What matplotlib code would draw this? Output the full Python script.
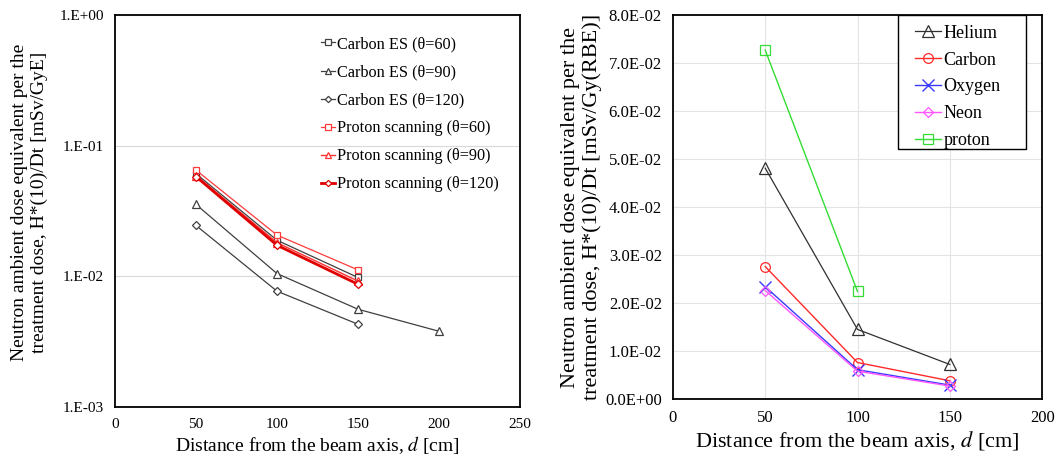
import matplotlib
matplotlib.use("Agg")
import matplotlib.pyplot as plt
from matplotlib.ticker import FuncFormatter, FixedLocator
from matplotlib.patches import Rectangle

plt.rcParams['font.family'] = ['Liberation Serif', 'DejaVu Serif']
plt.rcParams['mathtext.fontset'] = 'stix'

# ---- Left panel data ----
d_left = [50, 100, 150]
d_left_ext = [50, 100, 150, 200]
carbon_es_60 = [0.061, 0.0189, 0.0098]
carbon_es_90 = [0.0355, 0.0105, 0.0056, 0.0038]
carbon_es_120 = [0.0245, 0.0077, 0.0043]
proton_60 = [0.065, 0.0207, 0.0112]
proton_90 = [0.059, 0.0181, 0.0092]
proton_120 = [0.058, 0.0173, 0.0087]
left_xticks = [0, 50, 100, 150, 200, 250]
left_yticks = [1e-3, 1e-2, 1e-1, 1e0]

# ---- Right panel data ----
d_right = [50, 100, 150]
d_proton = [50, 100]
helium = [0.0481, 0.0145, 0.0072]
carbon = [0.0276, 0.0076, 0.0038]
oxygen = [0.0234, 0.0061, 0.0029]
neon = [0.0226, 0.0058, 0.0027]
proton = [0.0727, 0.0224]
right_xticks = [0, 50, 100, 150, 200]
right_yticks = [0.0, 0.01, 0.02, 0.03, 0.04, 0.05, 0.06, 0.07, 0.08]

fig = plt.figure(figsize=(10.58, 4.65), dpi=100)

# ---------------- Left ----------------
ax1 = fig.add_axes([0.1087, 0.1247, 0.3828, 0.843])
ax1.set_yscale('log')
ax1.set_xlim(0, 250)
ax1.set_ylim(1e-3, 1e0)
gray = '#404040'
ax1.plot(d_left, carbon_es_60, color=gray, lw=0.9, marker='s', ms=5, mfc='white', mew=0.9, label='Carbon ES (θ=60)')
ax1.plot(d_left_ext, carbon_es_90, color=gray, lw=0.9, marker='^', ms=5.5, mfc='white', mew=0.9, label='Carbon ES (θ=90)')
ax1.plot(d_left, carbon_es_120, color=gray, lw=0.9, marker='D', ms=4, mfc='white', mew=0.9, label='Carbon ES (θ=120)')
ax1.plot(d_left, proton_60, color='#ff3b3b', lw=0.9, marker='s', ms=5, mfc='white', mew=0.9, label='Proton scanning (θ=60)')
ax1.plot(d_left, proton_90, color='#ff3030', lw=1.0, marker='^', ms=5.5, mfc='white', mew=0.9, label='Proton scanning (θ=90)')
ax1.plot(d_left, proton_120, color='#e00000', lw=2.0, marker='D', ms=4, mfc='white', mew=0.9, label='Proton scanning (θ=120)')
ax1.xaxis.set_major_locator(FixedLocator(left_xticks))
ax1.yaxis.set_major_locator(FixedLocator(left_yticks))
ax1.yaxis.set_minor_locator(FixedLocator([]))
ax1.yaxis.set_major_formatter(FuncFormatter(lambda v, p: f"{v:#.0E}"))
ax1.grid(axis='y', which='major', color='#d9d9d9', lw=0.8)
ax1.set_axisbelow(True)
ax1.tick_params(length=0, labelsize=11, pad=8)
for s in ax1.spines.values():
    s.set_linewidth(1.3)
    s.set_color('black')
ax1.set_xlabel(r"Distance from the beam axis, $d$ [cm]", fontsize=14, labelpad=2)
ax1.set_ylabel("Neutron ambient dose equivalent per the\ntreatment dose, H*(10)/Dt [mSv/GyE]", fontsize=14, labelpad=10)
ax1.yaxis.set_label_coords(-0.165, 0.523)
leg1 = ax1.legend(loc='upper left', bbox_to_anchor=(0.508, 0.946), frameon=False, fontsize=11.7,
                  handlelength=0.9, handletextpad=0.1, labelspacing=0.74, markerscale=0.8,
                  borderpad=0.0, borderaxespad=0.0)

# ---------------- Right ----------------
ax2 = fig.add_axes([0.636, 0.1419, 0.349, 0.8258])
ax2.set_xlim(0, 200)
ax2.set_ylim(0, 0.08)
ax2.plot(d_right, helium, color='#303030', lw=0.9, marker='^', ms=8, mfc='none', mew=0.9, label='Helium')
ax2.plot(d_right, carbon, color='#ff2a2a', lw=1.0, marker='o', ms=7, mfc='none', mew=0.9, label='Carbon')
ax2.plot(d_right, oxygen, color='#3a3aff', lw=1.0, marker='x', ms=8, mfc='none', mew=1.0, label='Oxygen')
ax2.plot(d_right, neon, color='#ff55ff', lw=1.0, marker='D', ms=5.5, mfc='none', mew=0.9, label='Neon')
ax2.plot(d_proton, proton, color='#33dd33', lw=1.0, marker='s', ms=7, mfc='none', mew=0.9, label='proton')
ax2.xaxis.set_major_locator(FixedLocator(right_xticks))
ax2.yaxis.set_major_locator(FixedLocator(right_yticks))
ax2.yaxis.set_major_formatter(FuncFormatter(lambda v, p: f"{v:.1E}"))
ax2.grid(True, color='#e3e3e3', lw=0.8)
ax2.set_axisbelow(True)
ax2.tick_params(length=0, labelsize=12, pad=8)
for s in ax2.spines.values():
    s.set_linewidth(1.3)
    s.set_color('black')
ax2.set_xlabel(r"Distance from the beam axis, $d$ [cm]", fontsize=16, labelpad=2)
ax2.set_ylabel("Neutron ambient dose equivalent per the\ntreatment dose, H*(10)/Dt [mSv/Gy(RBE)]", fontsize=16, labelpad=2)

# legend box (frame drawn separately to get the wide horizontal padding)
box = Rectangle((0.61, 0.651), 0.347, 0.349, transform=ax2.transAxes, facecolor='white',
                edgecolor='black', lw=1.0, zorder=4)
ax2.add_patch(box)
leg2 = ax2.legend(loc='upper left', bbox_to_anchor=(0.655, 0.975), frameon=False,
                  fontsize=13, handlelength=1.45, handletextpad=0.15, labelspacing=0.55,
                  borderpad=0.0, borderaxespad=0.0)
leg2.set_zorder(5)

fig.savefig("out.png", dpi=100)
